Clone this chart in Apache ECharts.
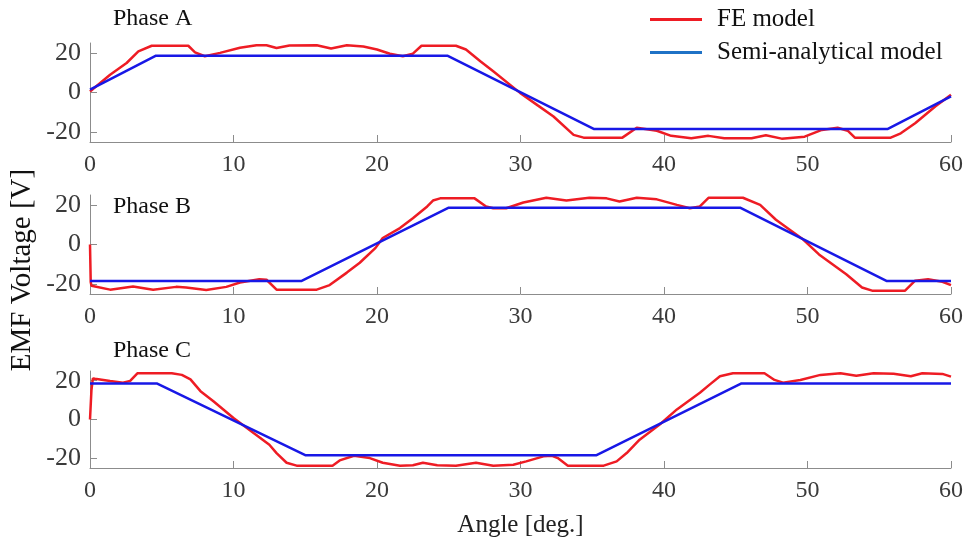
<!DOCTYPE html>
<html>
<head>
<meta charset="utf-8">
<script src="https://cdn.jsdelivr.net/npm/echarts@6/dist/echarts.min.js"></script>
<style>
html,body{margin:0;padding:0;background:#fff;}
#main{width:969px;height:548px;}
</style>
</head>
<body>
<div id="main"></div>
<script>
// ---------- data ----------
var panelTitles = ['Phase A', 'Phase B', 'Phase C'];
var seriesNames = ['FE model', 'Semi-analytical model'];
var xTicks = [0, 10, 20, 30, 40, 50, 60];
var yTicks = [-20, 0, 20];

var feA = [[0,0.5],[1.4,9],[2.55,14.9],[3.37,20.8],[4.3,23.6],[6.85,23.6],[7.32,20.3],[8.0,18.3],[9.06,20.0],[10.45,22.6],[11.6,23.9],[12.3,23.9],[13.0,22.5],[13.9,23.7],[15.8,23.9],[16.8,22.2],[17.9,23.9],[19.05,23.2],[20.0,21.7],[20.9,19.6],[21.8,18.3],[22.5,19.6],[23.1,23.6],[25.5,23.6],[26.2,21.7],[27.2,15.8],[28.1,10.7],[29.97,-0.2],[31.2,-6.5],[32.3,-12.1],[33.7,-21.4],[34.4,-22.8],[37.1,-22.8],[38.1,-17.8],[39.5,-19.3],[40.5,-21.9],[41.9,-23.1],[43.1,-21.9],[44.2,-23.1],[46.1,-23.1],[47.1,-21.6],[48.2,-23.3],[49.8,-22.3],[51.0,-18.9],[52.1,-17.8],[52.8,-19.3],[53.3,-22.8],[55.8,-22.8],[56.5,-20.6],[57.5,-15.5],[58.9,-7.1],[60,-1.1]];
var saA = [[0,1.5],[4.6,18.6],[24.9,18.6],[35.1,-18.4],[55.6,-18.4],[60,-2]];

var feB = [[0,0],[0.05,-19],[0.1,-20.8],[1.4,-22.8],[3.0,-21.2],[4.4,-22.8],[6.0,-21.4],[6.7,-21.7],[8.1,-23],[9.5,-21.4],[10.45,-19.2],[11.8,-17.5],[12.3,-17.8],[13.0,-22.8],[15.8,-22.8],[16.7,-20.5],[17.9,-14.2],[18.8,-9.2],[19.9,-1.7],[20.4,3.3],[21.6,8.3],[22.5,13.3],[23.5,19.2],[23.9,22.2],[24.4,23.3],[26.8,23.3],[27.6,19.2],[28.1,18.3],[29.0,18.3],[30.2,21.2],[31.8,23.6],[33.2,22.2],[34.8,23.6],[36.0,23.3],[36.9,21.7],[38.1,23.6],[39.5,22.8],[40.9,20.0],[41.8,18.3],[42.5,19.2],[43.1,23.6],[45.5,23.6],[46.7,20.0],[47.8,12.5],[49.7,2.5],[50.8,-5.0],[52.7,-15.0],[53.8,-21.7],[54.5,-23.3],[56.8,-23.3],[57.5,-18.3],[58.4,-17.5],[59.4,-18.8],[60.0,-20.5]];
var saB = [[0,-18.4],[14.75,-18.4],[25.0,18.6],[45.3,18.6],[55.5,-18.4],[60,-18.4]];

var feC = [[0,0],[0.1,15],[0.2,21.2],[0.35,21],[1.4,19.9],[2.3,19],[2.8,19.9],[3.3,23.8],[5.7,23.8],[6.4,23],[7.0,20.7],[7.7,14.6],[8.6,9.4],[10.0,0.8],[11.4,-7.0],[12.5,-13.0],[13.0,-17.3],[13.7,-22.3],[14.4,-23.8],[16.9,-23.8],[17.4,-21.1],[18.4,-18.7],[19.5,-19.9],[20.4,-22.3],[21.6,-23.8],[22.5,-23.6],[23.2,-22.3],[24.2,-23.6],[25.5,-23.8],[26.9,-22.3],[28.1,-23.8],[29.5,-23.3],[30.4,-21.6],[31.6,-19],[32.2,-18.7],[32.6,-19.9],[33.3,-23.8],[35.8,-23.8],[36.7,-21.6],[37.4,-17.3],[38.3,-10.4],[39.7,-2.6],[40.9,5.2],[42.5,13.8],[43.2,18.1],[43.9,22.3],[44.8,23.8],[47.0,23.8],[47.7,20.4],[48.3,19],[49.5,20.4],[50.9,23],[52.3,23.8],[53.4,22.6],[54.6,23.8],[56.0,23.6],[57.2,22.3],[58.0,23.8],[59.4,23.5],[60,22.1]];
var saC = [[0,18.6],[4.65,18.6],[15.0,-18.4],[35.3,-18.4],[45.4,18.6],[60,18.6]];

var feData = [feA, feB, feC];
var saData = [saA, saB, saC];

// ---------- chart ----------
var FONT = '"Liberation Serif","DejaVu Serif",serif';
var RED = '#ee1c24';
var BLUE = '#1818e6';
var AXIS = '#8c8c8c';
var LABEL = '#3a3a3a';

var grids = [
  {left: 90, right: 18, top: 43, height: 99},
  {left: 90, right: 18, top: 195, height: 99},
  {left: 90, right: 18, top: 371, height: 97}
];

var xAxes = [], yAxes = [], series = [], titles = [];
var titleTops = [2, 190, 334];
for (var i = 0; i < 3; i++) {
  xAxes.push({
    type: 'value', gridIndex: i, min: 0, max: 60, interval: 10,
    axisLine: {show: true, onZero: false, lineStyle: {color: AXIS, width: 1}},
    axisTick: {show: true, inside: true, length: 7, lineStyle: {color: AXIS}},
    axisLabel: {color: LABEL, fontFamily: FONT, fontSize: 24, margin: 11,
      formatter: function (v) { return xTicks.indexOf(v) >= 0 ? String(v) : ''; }},
    splitLine: {show: false},
    name: i === 2 ? 'Angle [deg.]' : '',
    nameLocation: 'middle', nameGap: 45,
    nameTextStyle: {color: '#222', fontFamily: FONT, fontSize: 25}
  });
  yAxes.push({
    type: 'value', gridIndex: i, min: -25, max: 25,
    axisLine: {show: true, onZero: false, lineStyle: {color: AXIS, width: 1}},
    axisTick: {show: true, inside: true, length: 7, lineStyle: {color: AXIS}, customValues: yTicks},
    axisLabel: {color: LABEL, fontFamily: FONT, fontSize: 26, margin: 9, customValues: yTicks},
    splitLine: {show: false}
  });
  series.push({
    name: seriesNames[0], type: 'line', xAxisIndex: i, yAxisIndex: i,
    data: feData[i], symbol: 'none', smooth: false,
    lineStyle: {color: RED, width: 2.5}, itemStyle: {color: RED}, z: 2
  });
  series.push({
    name: seriesNames[1], type: 'line', xAxisIndex: i, yAxisIndex: i,
    data: saData[i], symbol: 'none',
    lineStyle: {color: BLUE, width: 2.5}, itemStyle: {color: BLUE}, z: 3
  });
  titles.push({
    text: panelTitles[i], left: 108, top: titleTops[i],
    textStyle: {fontFamily: FONT, fontSize: 24, fontWeight: 'normal', color: '#111'}
  });
}

var chart = echarts.init(document.getElementById('main'), null, {renderer: 'canvas'});
chart.setOption({
  backgroundColor: '#ffffff',
  animation: false,
  title: titles,
  legend: {
    orient: 'vertical', left: 645, top: 2, itemGap: 8,
    icon: 'rect', itemWidth: 52, itemHeight: 3,
    textStyle: {fontFamily: FONT, fontSize: 25, lineHeight: 25, color: '#111', padding: [0, 0, 0, 10]},
    data: [
      {name: seriesNames[0], itemStyle: {color: RED}},
      {name: seriesNames[1], itemStyle: {color: '#1f72c6'}}
    ]
  },
  grid: grids,
  xAxis: xAxes,
  yAxis: yAxes,
  series: series,
  graphic: [{
    type: 'text', x: 22, y: 270, rotation: Math.PI / 2,
    style: {text: 'EMF Voltage [V]', font: '29px ' + FONT, fill: '#111', align: 'center', verticalAlign: 'middle'}
  }]
});
</script>
</body>
</html>
